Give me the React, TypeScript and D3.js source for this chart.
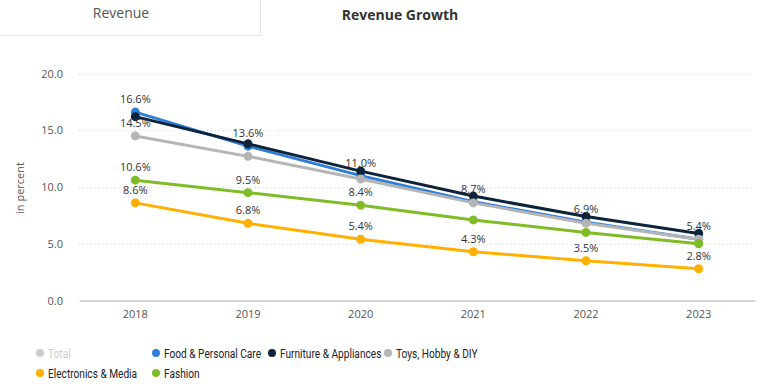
import { useEffect, useRef } from 'react';
import * as d3 from 'd3';

const years = ['2018', '2019', '2020', '2021', '2022', '2023'];
const yTicks = [0, 5, 10, 15, 20];

const seriesNames = ['Total', 'Food & Personal Care', 'Furniture & Appliances', 'Toys, Hobby & DIY', 'Electronics & Media', 'Fashion'];
const seriesColors = ['#c8c8c8', '#2f7ed8', '#0d233a', '#b5b5b5', '#ffb000', '#80bb28'];
const hiddenSeries = ['Total'];

const foodValues = [16.6, 13.6, 11.0, 8.7, 6.9, 5.4];
const furnitureValues = [16.2, 13.8, 11.4, 9.2, 7.4, 5.9];
const toysValues = [14.5, 12.7, 10.7, 8.6, 6.8, 5.4];
const electronicsValues = [8.6, 6.8, 5.4, 4.3, 3.5, 2.8];
const fashionValues = [10.6, 9.5, 8.4, 7.1, 6.0, 5.0];

// which points keep a visible label (the rest overlap and are dropped)
const foodLabels = [true, true, true, true, true, true];
const toysLabels = [true, false, false, false, false, false];
const electronicsLabels = [true, true, true, true, true, true];
const fashionLabels = [true, true, true, false, false, false];

export default function App() {
  const ref = useRef<SVGSVGElement | null>(null);

  useEffect(() => {
    if (!ref.current) return;
    const svg = d3.select(ref.current);
    svg.selectAll('*').remove();

    const W = 765;
    const H = 388;
    const font = '"Open Sans", "DejaVu Sans", sans-serif';

    svg.attr('width', W).attr('height', H);

    // tabs
    svg.append('path').attr('d', 'M0,35.5H260.5V0').attr('fill', 'none').attr('stroke', '#e6e6e6');
    svg.append('text').attr('x', 121).attr('y', 18).attr('text-anchor', 'middle')
      .attr('font-family', font).attr('font-size', 14).attr('fill', '#555').text('Revenue');
    svg.append('text').attr('x', 400).attr('y', 20).attr('text-anchor', 'middle')
      .attr('font-family', font).attr('font-size', 14).attr('font-weight', 'bold').attr('fill', '#333')
      .text('Revenue Growth');

    const x = d3.scaleBand().domain(years).range([79, 755]).padding(0);
    const cx = (yr: string) => x(yr)! + x.bandwidth() / 2;
    const y = d3.scaleLinear().domain([0, 20]).range([300.5, 73.5]);

    // grid
    svg.append('g').selectAll('line').data(yTicks.filter(t => t > 0)).join('line')
      .attr('x1', 79).attr('x2', 755)
      .attr('y1', d => Math.round(y(d)) + 0.5).attr('y2', d => Math.round(y(d)) + 0.5)
      .attr('stroke', '#d8d8d8').attr('stroke-width', 1).attr('stroke-dasharray', '1,3');

    // y axis
    const yAxis = svg.append('g').attr('transform', 'translate(79,0)')
      .call(d3.axisLeft(y).tickValues(yTicks).tickFormat(d => d3.format('.1f')(d as number)).tickSize(0).tickPadding(16));
    yAxis.select('.domain').remove();
    yAxis.selectAll('text').attr('font-family', font).attr('font-size', 11).attr('fill', '#555');

    svg.append('text')
      .attr('transform', 'translate(24,188) rotate(-90)')
      .attr('text-anchor', 'middle').attr('font-family', font).attr('font-size', 11).attr('fill', '#555')
      .text('in percent');

    // x axis
    const xAxis = svg.append('g').attr('transform', 'translate(0,300.5)')
      .call(d3.axisBottom(x).tickSize(0).tickPadding(10));
    xAxis.select('.domain').attr('stroke', '#aaa').attr('stroke-width', 1);
    xAxis.selectAll('text').attr('font-family', font).attr('font-size', 11).attr('fill', '#555');

    const series = [
      { name: seriesNames[1], color: seriesColors[1], values: foodValues, labels: foodLabels },
      { name: seriesNames[2], color: seriesColors[2], values: furnitureValues, labels: years.map(() => false) },
      { name: seriesNames[3], color: seriesColors[3], values: toysValues, labels: toysLabels },
      { name: seriesNames[4], color: seriesColors[4], values: electronicsValues, labels: electronicsLabels },
      { name: seriesNames[5], color: seriesColors[5], values: fashionValues, labels: fashionLabels },
    ];

    const line = d3.line<number>().x((_, i) => cx(years[i])).y(d => y(d));

    const plot = svg.append('g');
    series.forEach(s => {
      const g = plot.append('g');
      g.append('path').datum(s.values).attr('d', line)
        .attr('fill', 'none').attr('stroke', s.color).attr('stroke-width', 3)
        .attr('stroke-linejoin', 'round').attr('stroke-linecap', 'round');
      g.selectAll('circle').data(s.values).join('circle')
        .attr('cx', (_, i) => cx(years[i])).attr('cy', d => y(d)).attr('r', 4.5)
        .attr('fill', s.color);
    });

    const labelG = svg.append('g');
    series.forEach(s => {
      s.values.forEach((v, i) => {
        if (!s.labels[i]) return;
        labelG.append('text')
          .attr('x', cx(years[i])).attr('y', y(v) - 9)
          .attr('text-anchor', 'middle').attr('font-family', font).attr('font-size', 11)
          .attr('fill', '#333').text(d3.format('.1f')(v) + '%');
      });
    });

    // legend (condensed look: squeeze the text horizontally)
    const legendX = [40, 156, 272, 388];
    const squeeze = 0.78;
    const legend = svg.append('g');
    seriesNames.forEach((name, i) => {
      const lx = legendX[i % 4];
      const ly = i < 4 ? 353 : 373;
      const hidden = hiddenSeries.includes(name);
      const item = legend.append('g').attr('transform', `translate(${lx},${ly})`);
      item.append('path').attr('d', d3.symbol(d3.symbolCircle, 50)())
        .attr('fill', hidden ? '#cccccc' : seriesColors[i]);
      item.append('text').attr('transform', `translate(8,4.5) scale(${squeeze},1)`)
        .attr('font-family', 'Roboto, sans-serif').attr('font-size', 13)
        .attr('fill', hidden ? '#cccccc' : '#222').text(name);
    });
  }, []);

  return <svg ref={ref} style={{ position: 'absolute', left: 0, top: 0 }}></svg>;
}
